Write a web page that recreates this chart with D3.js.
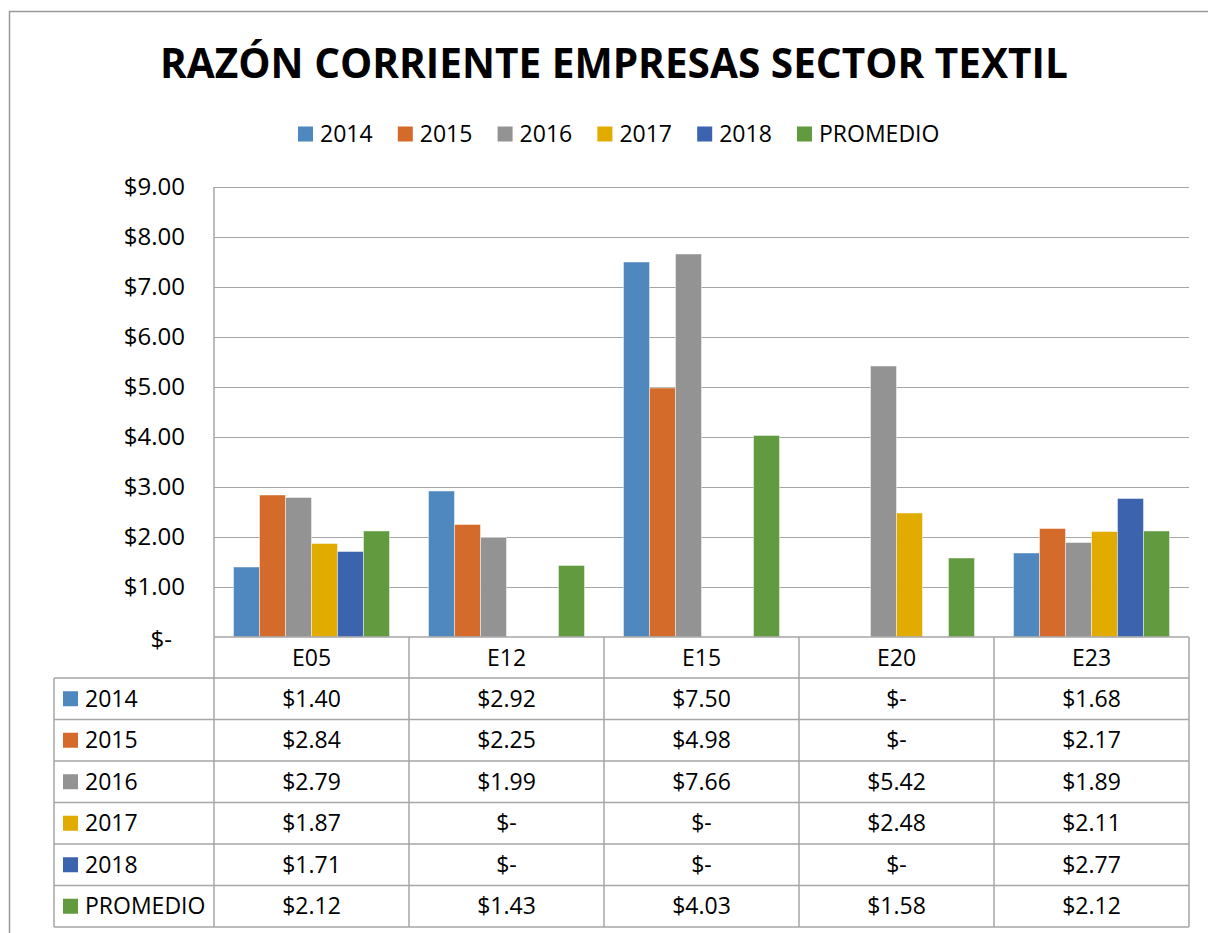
<!DOCTYPE html>
<html>
<head>
<meta charset="utf-8">
<script src="https://cdn.jsdelivr.net/npm/d3@7"></script>
<style>
  body { margin: 0; background: #fff; }
  svg { display: block; font-family: "Open Sans", sans-serif; }
</style>
</head>
<body>
<div id="chart"></div>
<script>
var width = 1208;
var height = 933;

// data
var companies = ["E05", "E12", "E15", "E20", "E23"];
var seriesNames = ["2014", "2015", "2016", "2017", "2018", "PROMEDIO"];
var v2014 = [1.40, 2.92, 7.50, 0, 1.68];
var v2015 = [2.84, 2.25, 4.98, 0, 2.17];
var v2016 = [2.79, 1.99, 7.66, 5.42, 1.89];
var v2017 = [1.87, 0, 0, 2.48, 2.11];
var v2018 = [1.71, 0, 0, 0, 2.77];
var vProm = [2.12, 1.43, 4.03, 1.58, 2.12];
var yTicks = [0, 1, 2, 3, 4, 5, 6, 7, 8, 9];
var colors = ["#4f88be", "#d46b2b", "#939393", "#e2ab00", "#3c63ae", "#629a3f"];

var values = [v2014, v2015, v2016, v2017, v2018, vProm];
var series = seriesNames.map(function(name, i) {
  return { name: name, color: colors[i], values: values[i] };
});

var svg = d3.select("#chart")
  .append("svg")
  .attr("width", width)
  .attr("height", height);

// chart frame
svg.append("path")
  .attr("d", "M9.5,933 V11.5 H1208")
  .attr("fill", "none")
  .attr("stroke", "#9a9a9a")
  .attr("stroke-width", 1.5);

var plotLeft = 214, plotRight = 1189, plotTop = 187, plotBottom = 637;
var tableLeft = 54;
var catRowH = 41;
var rowH = 41.5;

var x = d3.scaleBand()
  .domain(companies)
  .range([plotLeft, plotRight]);

var xInner = d3.scaleBand()
  .domain(seriesNames)
  .range([0, x.bandwidth()])
  .paddingInner(0)
  .paddingOuter(0.75);

var y = d3.scaleLinear()
  .domain([0, 9])
  .range([plotBottom, plotTop]);

var fmt = function(v) { return v === 0 ? "$-" : "$" + d3.format(".2f")(v); };

// title
var title = svg.append("text")
  .attr("x", 614)
  .attr("y", 78)
  .attr("text-anchor", "middle")
  .attr("font-weight", "bold")
  .attr("font-size", 42)
  .attr("fill", "#000")
  .text("RAZÓN CORRIENTE EMPRESAS SECTOR TEXTIL");
var tw = title.node().getComputedTextLength();
title.attr("font-size", 42 * 908 / tw);

// legend
var legend = svg.append("g")
  .selectAll("g")
  .data(series)
  .enter().append("g")
  .attr("transform", function(d, i) { return "translate(" + (298 + i * 99.8) + ",134)"; });
legend.append("rect")
  .attr("x", 0).attr("y", -7.5)
  .attr("width", 15).attr("height", 15)
  .attr("fill", function(d) { return d.color; });
legend.append("text")
  .attr("x", 22)
  .attr("dy", "0.35em")
  .attr("font-size", 23)
  .text(function(d) { return d.name; });

// gridlines
svg.append("g")
  .selectAll("line")
  .data(yTicks.filter(function(t) { return t > 0; }))
  .enter().append("line")
  .attr("x1", plotLeft).attr("x2", plotRight)
  .attr("y1", function(d) { return y(d) + 0.5; })
  .attr("y2", function(d) { return y(d) + 0.5; })
  .attr("stroke", "#a6a6a6");

// y labels
svg.append("g")
  .selectAll("text")
  .data(yTicks)
  .enter().append("text")
  .attr("x", function(d) { return d === 0 ? 172 : 185; })
  .attr("y", function(d) { return y(d) + (d === 0 ? 3 : 0); })
  .attr("dy", "0.35em")
  .attr("text-anchor", "end")
  .attr("font-size", 24)
  .text(function(d) { return d === 0 ? "$-" : "$" + d3.format(".2f")(d); });

// bars
var groups = svg.append("g")
  .selectAll("g")
  .data(series)
  .enter().append("g")
  .attr("fill", function(d) { return d.color; });

groups.selectAll("rect")
  .data(function(s) {
    return companies.map(function(c, j) { return { company: c, series: s.name, value: s.values[j] }; })
      .filter(function(d) { return d.value > 0; });
  })
  .enter().append("rect")
  .attr("x", function(d) { return x(d.company) + xInner(d.series); })
  .attr("width", xInner.bandwidth())
  .attr("y", function(d) { return y(d.value); })
  .attr("height", function(d) { return y(0) - y(d.value); })
  .attr("stroke", "rgba(255,255,255,0.45)")
  .attr("stroke-width", 1);

// data table
var table = svg.append("g")
  .attr("stroke", "#a6a6a6")
  .attr("stroke-width", 1.5)
  .attr("fill", "none");

var tableBottom = plotBottom + catRowH + rowH * series.length;

// horizontal lines
table.append("line")
  .attr("x1", plotLeft).attr("x2", plotRight)
  .attr("y1", plotBottom).attr("y2", plotBottom);
d3.range(series.length + 1).forEach(function(i) {
  var yy = plotBottom + catRowH + i * rowH;
  table.append("line")
    .attr("x1", tableLeft).attr("x2", plotRight)
    .attr("y1", yy).attr("y2", yy);
});
// vertical lines
table.append("line")
  .attr("x1", tableLeft).attr("x2", tableLeft)
  .attr("y1", plotBottom + catRowH).attr("y2", tableBottom);
table.append("line")
  .attr("x1", plotLeft).attr("x2", plotLeft)
  .attr("y1", plotTop).attr("y2", tableBottom);
companies.forEach(function(c) {
  var xx = x(c) + x.bandwidth();
  table.append("line")
    .attr("x1", xx).attr("x2", xx)
    .attr("y1", plotBottom).attr("y2", tableBottom);
});

// category labels
svg.append("g")
  .selectAll("text")
  .data(companies)
  .enter().append("text")
  .attr("x", function(d) { return x(d) + x.bandwidth() / 2; })
  .attr("y", plotBottom + catRowH / 2)
  .attr("dy", "0.35em")
  .attr("text-anchor", "middle")
  .attr("font-size", 23)
  .text(function(d) { return d; });

// rows
var rows = svg.append("g")
  .selectAll("g")
  .data(series)
  .enter().append("g")
  .attr("transform", function(d, i) { return "translate(0," + (plotBottom + catRowH + i * rowH + rowH / 2) + ")"; });

rows.append("rect")
  .attr("x", 63).attr("y", -7.5)
  .attr("width", 15).attr("height", 15)
  .attr("fill", function(d) { return d.color; });
rows.append("text")
  .attr("x", 85)
  .attr("dy", "0.35em")
  .attr("font-size", 23)
  .text(function(d) { return d.name; });

rows.selectAll("text.val")
  .data(function(s) { return s.values; })
  .enter().append("text")
  .attr("class", "val")
  .attr("x", function(d, j) { return x(companies[j]) + x.bandwidth() / 2; })
  .attr("dy", "0.35em")
  .attr("text-anchor", "middle")
  .attr("font-size", 23)
  .text(function(d) { return fmt(d); });
</script>
</body>
</html>
